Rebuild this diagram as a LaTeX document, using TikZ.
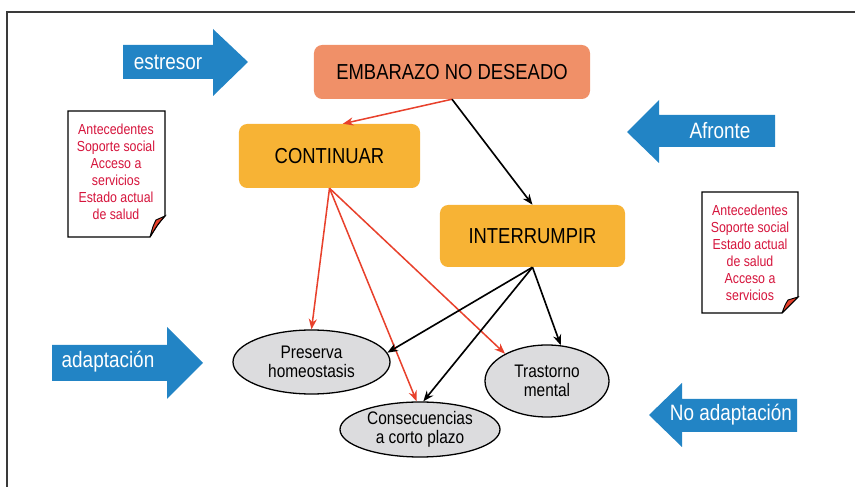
\documentclass[tikz,border=0pt]{standalone}
\usepackage{fontspec}
\setmainfont{Liberation Sans}[FakeStretch=0.85]
\usetikzlibrary{shapes.geometric}
\usetikzlibrary{arrows.meta}
\usetikzlibrary{positioning}
\definecolor{salmon}{RGB}{240,144,104}
\definecolor{naranja}{RGB}{247,179,53}
\definecolor{grisel}{RGB}{220,220,222}
\definecolor{rojoflecha}{RGB}{232,65,44}
\definecolor{rojotexto}{RGB}{214,20,60}
\definecolor{azul}{RGB}{34,132,197}
\definecolor{marco}{RGB}{58,58,58}
\tikzstyle{caja} = [rectangle, rounded corners=7pt, inner sep=0pt, text=black, font=\fontsize{18.5}{22}\selectfont]
\tikzstyle{elipse} = [ellipse, draw=black, line width=1.1pt, fill=grisel, inner sep=0pt, align=center, font=\fontsize{15.5}{16.5}\selectfont]
\tikzstyle{nota} = [draw=black, line width=1pt, fill=white]
\tikzstyle{notatxt} = [align=center, text=rojotexto, font=\fontsize{12.4}{14.5}\selectfont]
\tikzstyle{azultxt} = [text=white, font=\fontsize{19}{22}\selectfont]
\tikzstyle{flecharoja} = [draw=rojoflecha, line width=1.3pt, -{Stealth[length=9pt,width=7pt]}]
\tikzstyle{flechanegra} = [draw=black, line width=1.4pt, -{Stealth[length=9pt,width=7pt]}]

\begin{document}
\begin{tikzpicture}[x=0.03cm, y=-0.03cm]

  \useasboundingbox (0,0) rectangle (855,487);

  % marco
  \draw[marco, line width=1.7pt] (855,12) -- (7,12) -- (7,487);

  % flechas azules
  \fill[azul] (123,45) -- (213,45) -- (213,29) -- (248,62) -- (213,96) -- (213,79) -- (123,79) -- cycle;
  \node[azultxt] (estresor) at (168,62) {estresor};

  \fill[azul] (775,115) -- (659,115) -- (659,100) -- (627,132) -- (659,163) -- (659,147) -- (775,147) -- cycle;
  \node[azultxt] (afronte) at (720,131) {Afronte};

  \fill[azul] (52,345) -- (167,345) -- (167,327) -- (203,363) -- (167,399) -- (167,381) -- (52,381) -- cycle;
  \node[azultxt] (adapt) at (108,362) {adaptación};

  \fill[azul] (797,399) -- (682,399) -- (682,383) -- (649,415) -- (682,447) -- (682,432) -- (797,432) -- cycle;
  \node[azultxt] (noadapt) at (731,415) {No adaptación};

  % notas
  \draw[nota] (68,111) -- (165,111) -- (165,216) .. controls (158,224) .. (150,237) -- (68,237) -- cycle;
  \filldraw[fill=rojoflecha, draw=black, line width=0.8pt] (150,237) .. controls (153,226) .. (156,220) -- (165,216) .. controls (158,224) .. (150,237);
  \node[notatxt] (notaL) at (116,172) {Antecedentes\\Soporte social\\Acceso a\\servicios\\Estado actual\\de salud};

  \draw[nota] (702,192) -- (798,192) -- (798,297) .. controls (791,304) .. (782,313) -- (702,313) -- cycle;
  \filldraw[fill=rojoflecha, draw=black, line width=0.8pt] (782,313) .. controls (785,305) .. (788,300) -- (798,297) .. controls (791,304) .. (782,313);
  \node[notatxt] (notaR) at (750,253) {Antecedentes\\Soporte social\\Estado actual\\de salud\\Acceso a\\servicios};

  % cajas
  \node[caja, fill=salmon, minimum width=8.28cm, minimum height=1.62cm] (emb) at (452,72) {EMBARAZO NO DESEADO};
  \node[caja, fill=naranja, minimum width=5.43cm, minimum height=1.92cm] (cont) at (329.5,156) {CONTINUAR};
  \node[caja, fill=naranja, minimum width=5.55cm, minimum height=1.86cm] (inter) at (532.5,236) {INTERRUMPIR};

  % elipses
  \node[elipse, minimum width=4.71cm, minimum height=1.92cm] (pres) at (311.5,362) {Preserva\\homeostasis};
  \node[elipse, minimum width=4.8cm, minimum height=1.65cm] (cons) at (420,429.5) {Consecuencias\\a corto plazo};
  \node[elipse, minimum width=3.72cm, minimum height=2.16cm] (trast) at (547,381) {Trastorno\\mental};

  % conexiones
  \draw[flecharoja] (emb.south) -- ([xshift=0.4cm]cont.north);
  \draw[flechanegra] (emb.south) -- (inter.north);

  \draw[flecharoja] (cont.south) -- (pres.north);
  \draw[flecharoja] (cont.south) -- ([xshift=-0.1cm]cons.north);
  \draw[flecharoja] (cont.south) -- (trast.147);

  \draw[flechanegra] (inter.south) -- (pres.7);
  \draw[flechanegra] (inter.south) -- ([xshift=0.1cm]cons.north);
  \draw[flechanegra] (inter.south) -- (trast.69);

\end{tikzpicture}
\end{document}
